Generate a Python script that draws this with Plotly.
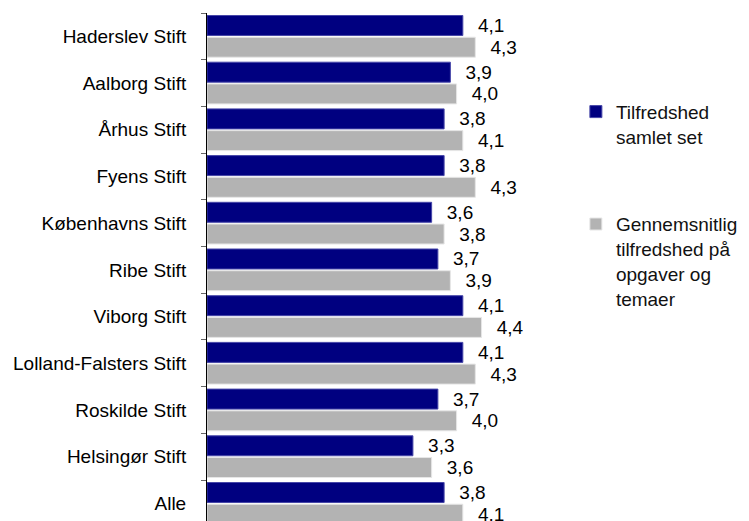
import plotly.graph_objects as go

categories = ["Haderslev Stift", "Aalborg Stift", "Århus Stift", "Fyens Stift",
              "Københavns Stift", "Ribe Stift", "Viborg Stift",
              "Lolland-Falsters Stift", "Roskilde Stift", "Helsingør Stift", "Alle"]
samlet = [4.1, 3.9, 3.8, 3.8, 3.6, 3.7, 4.1, 4.1, 3.7, 3.3, 3.8]
gennemsnit = [4.3, 4.0, 4.1, 4.3, 3.8, 3.9, 4.4, 4.3, 4.0, 3.6, 4.1]
series_names = ["Tilfredshed<br>samlet set",
                "Gennemsnitlig<br>tilfredshed på<br>opgaver og<br>temaer"]

FONT = "Liberation Sans, Arial, Helvetica, sans-serif"
pad = "\u00a0\u00a0\u200a"

def fmt(v):
    return pad + f"{v:.1f}".replace(".", ",")

fig = go.Figure()
fig.add_trace(go.Bar(
    y=categories, x=samlet, orientation="h", name=series_names[0],
    marker=dict(color="#000080", line=dict(color="#4646a8", width=1)),
    text=[fmt(v) for v in samlet], textposition="outside", constraintext="none",
    textfont=dict(family=FONT, size=19, color="black"),
    cliponaxis=False, legendgroup="a"))
fig.add_trace(go.Bar(
    y=categories, x=gennemsnit, orientation="h", name=series_names[1],
    marker=dict(color="#b3b3b3", line=dict(color="#e6e6e6", width=1)),
    text=[fmt(v) for v in gennemsnit], textposition="outside", constraintext="none",
    textfont=dict(family=FONT, size=19, color="black"),
    cliponaxis=False, legendgroup="b"))

plot_left, plot_top, plot_right, plot_bottom = 207, 13, 560, 521
W, H = 749, 521
px_per_unit = 62.4
band = 46.7
n_visible = (plot_bottom - plot_top) / band

fig.update_layout(
    width=W, height=H,
    margin=dict(l=plot_left, r=W - plot_right, t=plot_top, b=H - plot_bottom, pad=0,
                autoexpand=False),
    paper_bgcolor="white", plot_bgcolor="white",
    barmode="group", bargap=0.07, bargroupgap=0.08,
    font=dict(family=FONT, size=19, color="black"),
    showlegend=True,
    legend=dict(x=1.045, y=0.843, xanchor="left", yanchor="top",
                font=dict(family=FONT, size=19, color="#111111"),
                valign="top", tracegroupgap=60, bgcolor="rgba(0,0,0,0)",
                itemwidth=30),
)
fig.update_xaxes(range=[0, (plot_right - plot_left) / px_per_unit], visible=False,
                 showgrid=False, zeroline=False, automargin=False)
fig.update_yaxes(type="category", categoryorder="array", categoryarray=categories,
                 range=[-0.5 + n_visible, -0.5], showgrid=False, zeroline=False,
                 showline=True, linecolor="black", linewidth=1,
                 ticks="outside", ticklen=5, tickcolor="#666666", tickson="boundaries",
                 ticklabelstandoff=16, automargin=False,
                 tickfont=dict(family=FONT, size=19, color="black"))

fig.write_html("out.html", config={"displayModeBar": False},
               post_script="document.body.style.margin='0';document.body.style.overflow='hidden';")
